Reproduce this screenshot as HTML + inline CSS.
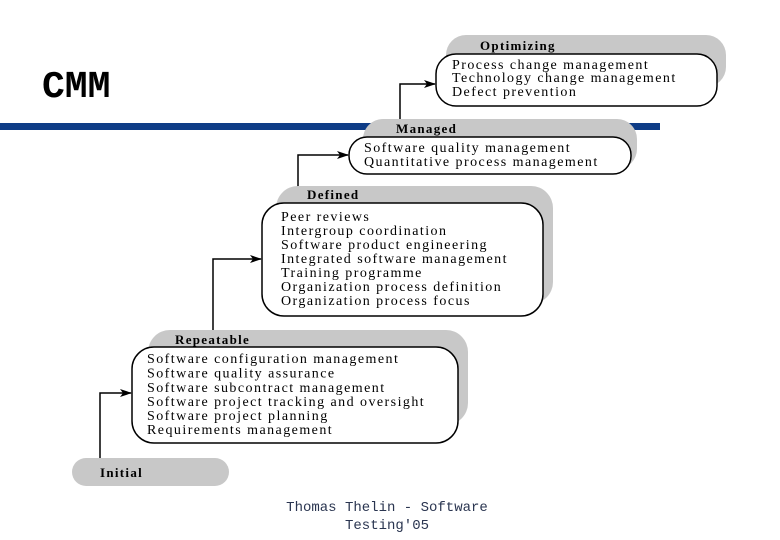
<!DOCTYPE html>
<html><head><meta charset="utf-8"><style>
html,body{margin:0;padding:0;background:#fff;}
svg{display:block}
.t{font-family:"Liberation Serif",serif;font-size:14px;fill:#000;letter-spacing:1.45px}
.h{font-family:"Liberation Serif",serif;font-size:13px;font-weight:bold;fill:#000;letter-spacing:1.3px}
</style></head><body>
<svg width="780" height="540" viewBox="0 0 780 540" xmlns="http://www.w3.org/2000/svg">
<defs><marker id="a" markerWidth="12" markerHeight="8" refX="11" refY="4" orient="auto" markerUnits="userSpaceOnUse"><path d="M0,0 L12,4 L0,8 L3,4 z" fill="#000"/></marker></defs>
<text x="42" y="97" font-family="Liberation Mono,monospace" font-weight="bold" font-size="38" fill="#000">CMM</text>
<rect x="0" y="123" width="660" height="7" fill="#0e3c86"/>
<!-- arrows -->
<path d="M100,458 V393 H131" fill="none" stroke="#000" stroke-width="1.5" marker-end="url(#a)"/>
<path d="M213,330 V259 H261" fill="none" stroke="#000" stroke-width="1.5" marker-end="url(#a)"/>
<path d="M298,187 V155 H348" fill="none" stroke="#000" stroke-width="1.5" marker-end="url(#a)"/>
<path d="M400,120 V84 H435" fill="none" stroke="#000" stroke-width="1.5" marker-end="url(#a)"/>
<!-- Initial -->
<rect x="72" y="458" width="157" height="28" rx="14" fill="#c8c8c8"/>
<text class="h" x="100" y="477">Initial</text>
<!-- Repeatable -->
<rect x="148" y="330" width="320" height="95" rx="22" fill="#c8c8c8"/>
<rect x="132" y="347" width="326" height="96" rx="22" fill="#fff" stroke="#000" stroke-width="1.5"/>
<text class="h" x="175" y="344">Repeatable</text>
<g class="t"><text x="147" y="363">Software configuration management</text><text x="147" y="377.5">Software quality assurance</text><text x="147" y="392">Software subcontract management</text><text x="147" y="406">Software project tracking and oversight</text><text x="147" y="420">Software project planning</text><text x="147" y="434">Requirements management</text></g>
<!-- Defined -->
<rect x="276" y="186" width="277" height="118" rx="22" fill="#c8c8c8"/>
<rect x="262" y="203" width="281" height="113" rx="22" fill="#fff" stroke="#000" stroke-width="1.5"/>
<text class="h" x="307" y="199">Defined</text>
<g class="t"><text x="281" y="221">Peer reviews</text><text x="281" y="235">Intergroup coordination</text><text x="281" y="249">Software product engineering</text><text x="281" y="263">Integrated software management</text><text x="281" y="277">Training programme</text><text x="281" y="291">Organization process definition</text><text x="281" y="305">Organization process focus</text></g>
<!-- Managed -->
<rect x="363" y="119" width="274" height="50" rx="20" fill="#c8c8c8"/>
<rect x="349" y="137" width="282" height="37" rx="18" fill="#fff" stroke="#000" stroke-width="1.5"/>
<text class="h" x="396" y="133">Managed</text>
<g class="t"><text x="364" y="152">Software quality management</text><text x="364" y="166">Quantitative process management</text></g>
<!-- Optimizing -->
<rect x="446" y="35" width="280" height="52" rx="20" fill="#c8c8c8"/>
<rect x="436" y="54" width="281" height="52" rx="20" fill="#fff" stroke="#000" stroke-width="1.5"/>
<text class="h" x="480" y="50">Optimizing</text>
<g class="t"><text x="452" y="69">Process change management</text><text x="452" y="82">Technology change management</text><text x="452" y="96">Defect prevention</text></g>
<g font-family="Liberation Mono,monospace" font-size="14" fill="#2a3550" text-anchor="middle"><text x="387" y="511">Thomas Thelin - Software</text><text x="387" y="529">Testing'05</text></g>
</svg>
</body></html>
